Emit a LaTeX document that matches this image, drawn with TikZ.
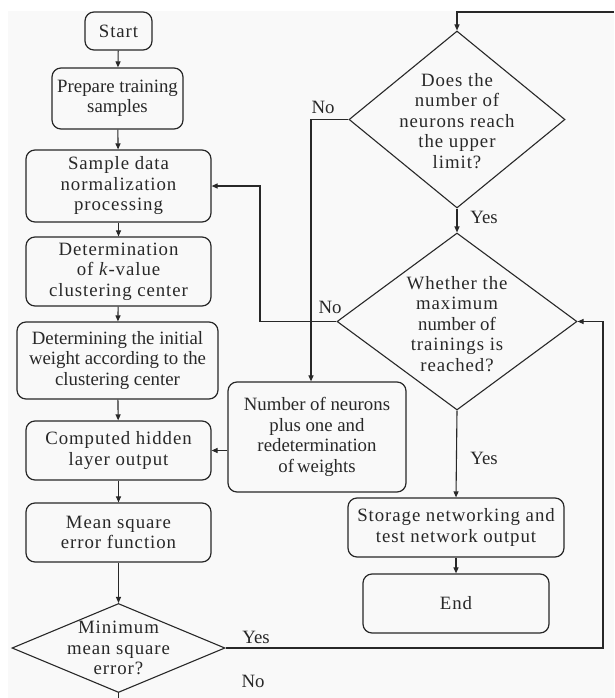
\documentclass[tikz,border=0pt]{standalone}
\usepackage{fontspec}
\setmainfont{Liberation Serif}
\newfontfamily\spaced[LetterSpace=5]{Liberation Serif}
\usetikzlibrary{shapes.geometric,arrows.meta}
\definecolor{ink}{RGB}{40,40,40}
\definecolor{bg}{RGB}{249,249,249}
\tikzset{
  box/.style={draw=ink, line width=1.2pt, rounded corners=9pt, align=center, inner sep=0pt, text=ink},
  dia/.style={draw=ink, line width=1.1pt, diamond, inner sep=0pt},
  dtext/.style={align=center, inner sep=0pt, text=ink},
  lab/.style={inner sep=0pt, text=ink},
  arr/.style={draw=ink, line width=1.1pt, -{Triangle[length=6pt,width=5pt]}},
  ln/.style={draw=ink, line width=1.1pt}
}
\begin{document}
\begin{tikzpicture}[x=1pt,y=-1pt, font=\fontsize{18.8}{20.5}\selectfont]
\useasboundingbox (0,0) rectangle (614,698);
\fill[white] (0,0) rectangle (614,698);
\fill[bg] (8,11) rectangle (614,698);
% left column
\node[box, minimum width=67pt, minimum height=38pt] (start) at (118.5,31) {\spaced Start};
\node[box, minimum width=131pt, minimum height=61pt] (prep) at (117.5,98.5) {Prepare training\\samples};
\node[box, minimum width=185pt, minimum height=72pt] (norm) at (118.5,186) {\spaced Sample data\\\spaced normalization\\\spaced processing};
\node[box, minimum width=185pt, minimum height=69pt] (det) at (118.5,271.5) {\spaced Determination\\\spaced of \textit{k}-value\\\spaced clustering center};
\node[box, minimum width=201pt, minimum height=77pt] (init) at (117.5,360.5) {Determining the initial\\weight according to the\\clustering center};
\node[box, minimum width=185pt, minimum height=59pt] (comp) at (118.5,450.5) {\spaced Computed hidden\\\spaced layer output};
\node[box, minimum width=185pt, minimum height=59pt] (mse) at (118.5,532.5) {\spaced Mean square\\\spaced error function};
\node[dia, minimum width=213pt, minimum height=89pt] (mini) at (118.5,648) {};
\node[dtext] (minit) at (118.5,648) {\spaced Minimum\\\spaced mean square\\\spaced error?};
% right column
\node[dia, minimum width=216pt, minimum height=177pt] (d1) at (457,119.5) {};
\node[dtext] (d1t) at (457,121) {\spaced Does the\\\spaced number of\\\spaced neurons reach\\\spaced the upper\\\spaced limit?};
\node[dia, minimum width=240pt, minimum height=177pt] (d2) at (457,321.5) {};
\node[dtext] (d2t) at (457,324) {\spaced Whether the\\\spaced maximum\\number of\\\spaced trainings is\\\spaced reached?};
\node[box, minimum width=178pt, minimum height=110pt] (neur) at (317,437) {Number of neurons\\plus one and\\redetermination\\of\,weights};
\node[box, minimum width=216pt, minimum height=59pt] (stor) at (456,527.5) {\spaced Storage networking and\\\spaced test network output};
\node[box, minimum width=186pt, minimum height=59pt] (end) at (456,603.5) {\spaced End};
% free ends
\coordinate (topend) at (614,12);
\coordinate (botend) at (118.5,698);
% connectors
\draw[arr] (start) -- (prep);
\draw[arr] (prep) -- (norm);
\draw[arr] (norm) -- (det);
\draw[arr] (det) -- (init);
\draw[arr] (init) -- (comp);
\draw[arr] (comp) -- (mse);
\draw[arr] (mse) -- (mini.north);
\draw[ln] (mini.south) -- (botend);
\draw[arr] (mini.east) -- (603,648) -- (603,321.5) -- (d2.east);
\draw[arr] (d2.west) -- (260,321.5) -- (260,186) -- (norm.east);
\draw[arr] (topend) -- (457,12) -- (d1.north);
\draw[arr] (d1.south) -- (d2.north);
\draw[arr] (d1.west) -| ([xshift=-6pt]neur.north);
\draw[arr] (neur.west |- comp.east) -- (comp.east);
\draw[arr] (d2.south) -- (stor.north);
\draw[arr] (stor) -- (end);
% labels
\node[lab] (l1) at (323,107) {No};
\node[lab] (l2) at (484,217) {Yes};
\node[lab] (l3) at (330,307) {No};
\node[lab] (l4) at (484,458) {Yes};
\node[lab] (l5) at (256,637) {Yes};
\node[lab] (l6) at (253,681) {No};
\end{tikzpicture}
\end{document}
